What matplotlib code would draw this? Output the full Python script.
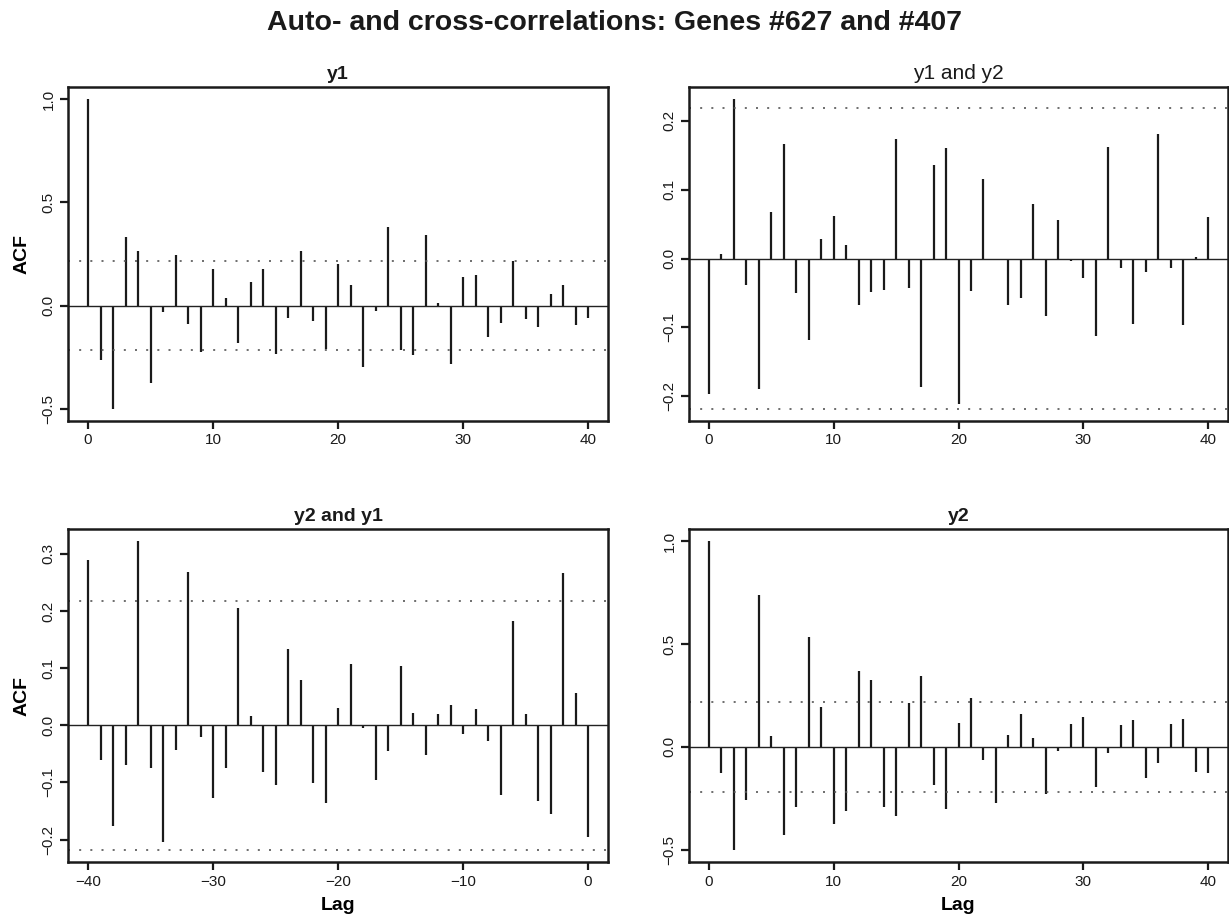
import numpy as np
import matplotlib
matplotlib.use("Agg")
import matplotlib.pyplot as plt

plt.rcParams['font.family'] = ['Liberation Sans', 'DejaVu Sans']

# lags
lag_pos = list(range(0, 41))
lag_neg = list(range(-40, 1))

# y1 autocorrelation
acf_y1 = [1.0, -0.266, -0.5, 0.332, 0.266, -0.374, -0.031, 0.244, -0.089, -0.224,
          0.179, 0.035, -0.182, 0.116, 0.179, -0.235, -0.058, 0.265, -0.074, -0.213,
          0.2, 0.102, -0.297, -0.027, 0.381, -0.216, -0.242, 0.342, 0.011, -0.282,
          0.14, 0.148, -0.152, -0.087, 0.216, -0.063, -0.105, 0.058, 0.1, -0.092,
          -0.061]

# y1 and y2 cross-correlation (positive lags)
ccf_y1y2 = [-0.196, 0.006, 0.231, -0.038, -0.19, 0.067, 0.166, -0.05, -0.118, 0.029,
            0.062, 0.019, -0.068, -0.049, -0.045, 0.174, -0.043, -0.187, 0.136, 0.161,
            -0.211, -0.047, 0.115, -0.001, -0.067, -0.057, 0.079, -0.084, 0.056, -0.004,
            -0.028, -0.112, 0.162, -0.014, -0.095, -0.019, 0.181, -0.013, -0.097, 0.002,
            0.061]

# y2 and y1 cross-correlation (negative lags, -40 .. 0)
ccf_y2y1 = [0.29, -0.06, -0.177, -0.069, 0.322, -0.074, -0.205, -0.044, 0.269, -0.021,
            -0.127, -0.075, 0.206, 0.016, -0.081, -0.105, 0.133, 0.08, -0.101, -0.136,
            0.03, 0.108, -0.005, -0.096, -0.045, 0.104, 0.022, -0.052, 0.019, 0.035,
            -0.015, 0.028, -0.027, -0.122, 0.183, 0.019, -0.132, -0.156, 0.266, 0.057,
            -0.195]

# y2 autocorrelation
acf_y2 = [1.0, -0.125, -0.5, -0.257, 0.738, 0.052, -0.43, -0.29, 0.534, 0.193,
          -0.377, -0.311, 0.367, 0.325, -0.294, -0.337, 0.215, 0.345, -0.183, -0.304,
          0.117, 0.236, -0.066, -0.275, 0.057, 0.16, 0.042, -0.231, -0.018, 0.11,
          0.146, -0.194, -0.032, 0.108, 0.133, -0.15, -0.078, 0.112, 0.138, -0.121,
          -0.129]

n_obs = 81
ci = 1.96 / np.sqrt(n_obs)

panels = [
    (lag_pos, acf_y1, "y1", "bold", [-0.5, 0.0, 0.5, 1.0]),
    (lag_pos, ccf_y1y2, "y1 and y2", "normal", [-0.2, -0.1, 0.0, 0.1, 0.2]),
    (lag_neg, ccf_y2y1, "y2 and y1", "bold", [-0.2, -0.1, 0.0, 0.1, 0.2, 0.3]),
    (lag_pos, acf_y2, "y2", "bold", [-0.5, 0.0, 0.5, 1.0]),
]

W, H = 1229, 918
fig = plt.figure(figsize=(W / 100, H / 100), dpi=100)

# axes boxes in pixels: left, top, right, bottom
boxes = [
    (68, 87, 608, 421),
    (689, 87, 1228, 421),
    (68, 529, 608, 862),
    (689, 529, 1228, 862),
]

for i, ((lags, vals, title, weight, yt), (l, t, r, b)) in enumerate(zip(panels, boxes)):
    ax = fig.add_axes([l / W, (H - b) / H, (r - l) / W, (b - t) / H])
    vals = np.array(vals)
    ax.vlines(lags, 0, vals, color='#1a1a1a', lw=1.6)
    ax.axhline(0, color='#222222', lw=1.0)
    ax.axhline(ci, color='#555555', lw=1.2, ls=(0, (1.2, 5.5)))
    ax.axhline(-ci, color='#555555', lw=1.2, ls=(0, (1.2, 5.5)))

    lo = min(vals.min(), -ci)
    hi = max(vals.max(), ci)
    pad = 0.04 * (hi - lo)
    ax.set_ylim(lo - pad, hi + pad)
    xpad = 0.04 * (max(lags) - min(lags))
    ax.set_xlim(min(lags) - xpad, max(lags) + xpad)

    ax.set_yticks(yt)
    ax.set_yticklabels(["%.1f" % v if v >= 0 else "\u2212%.1f" % -v for v in yt],
                       rotation=90, va='center')
    xt = list(range(min(lags), max(lags) + 1, 10))
    ax.set_xticks(xt)
    ax.set_xticklabels([str(v) if v >= 0 else "\u2212%d" % -v for v in xt])

    for s in ax.spines.values():
        s.set_linewidth(1.8)
        s.set_color('#1a1a1a')
    ax.tick_params(direction='out', length=6, width=1.6, labelsize=11,
                   colors='#1a1a1a', pad=3)
    ax.set_title(title, fontsize=14 if weight == 'bold' else 15, fontweight=weight,
                 pad=6, color='#1a1a1a')
    if i in (0, 2):
        ax.set_ylabel("ACF", fontsize=14, fontweight='bold', labelpad=8)
    if i in (2, 3):
        ax.set_xlabel("Lag", fontsize=14, fontweight='bold', labelpad=6)

fig.text(0.5, 1 - 23 / H, "Auto- and cross-correlations: Genes #627 and #407",
         ha='center', va='center', fontsize=20.5, fontweight='bold', color='#1a1a1a')

fig.savefig("out.png", dpi=100)
